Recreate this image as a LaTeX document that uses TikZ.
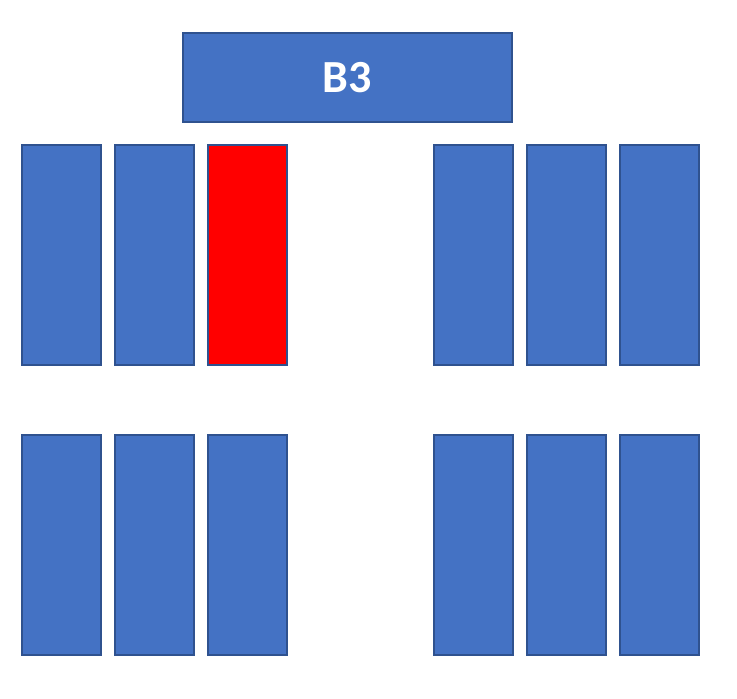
\documentclass[tikz,border=0pt]{standalone}
\usepackage{fontspec}
\setmainfont{Carlito}
\usetikzlibrary{positioning}
\definecolor{slotblue}{HTML}{4472C4}
\definecolor{slotedge}{HTML}{2F528F}
\definecolor{slotred}{HTML}{FF0000}
\begin{document}
\begin{tikzpicture}[
  x=1pt,y=-1pt,
  slot/.style={draw=slotedge, fill=slotblue, line width=1.6pt, minimum width=79pt, minimum height=220pt, anchor=north west, inner sep=0pt},
  taken/.style={slot, fill=slotred},
  head/.style={draw=slotedge, fill=slotblue, line width=1.6pt, minimum width=329pt, minimum height=89pt, anchor=north west, text=white, font=\fontsize{46}{55}\selectfont\bfseries}
]
\useasboundingbox (0,0) rectangle (737,699);
\node[head] (B3) at (182,32) {B3};
% upper row
\node[slot] (u1) at (21,144) {};
\node[slot] (u2) at (114,144) {};
\node[taken] (u3) at (207,144) {};
\node[slot] (u4) at (433,144) {};
\node[slot] (u5) at (526,144) {};
\node[slot] (u6) at (619,144) {};
% lower row
\node[slot] (l1) at (21,434) {};
\node[slot] (l2) at (114,434) {};
\node[slot] (l3) at (207,434) {};
\node[slot] (l4) at (433,434) {};
\node[slot] (l5) at (526,434) {};
\node[slot] (l6) at (619,434) {};
\end{tikzpicture}
\end{document}
